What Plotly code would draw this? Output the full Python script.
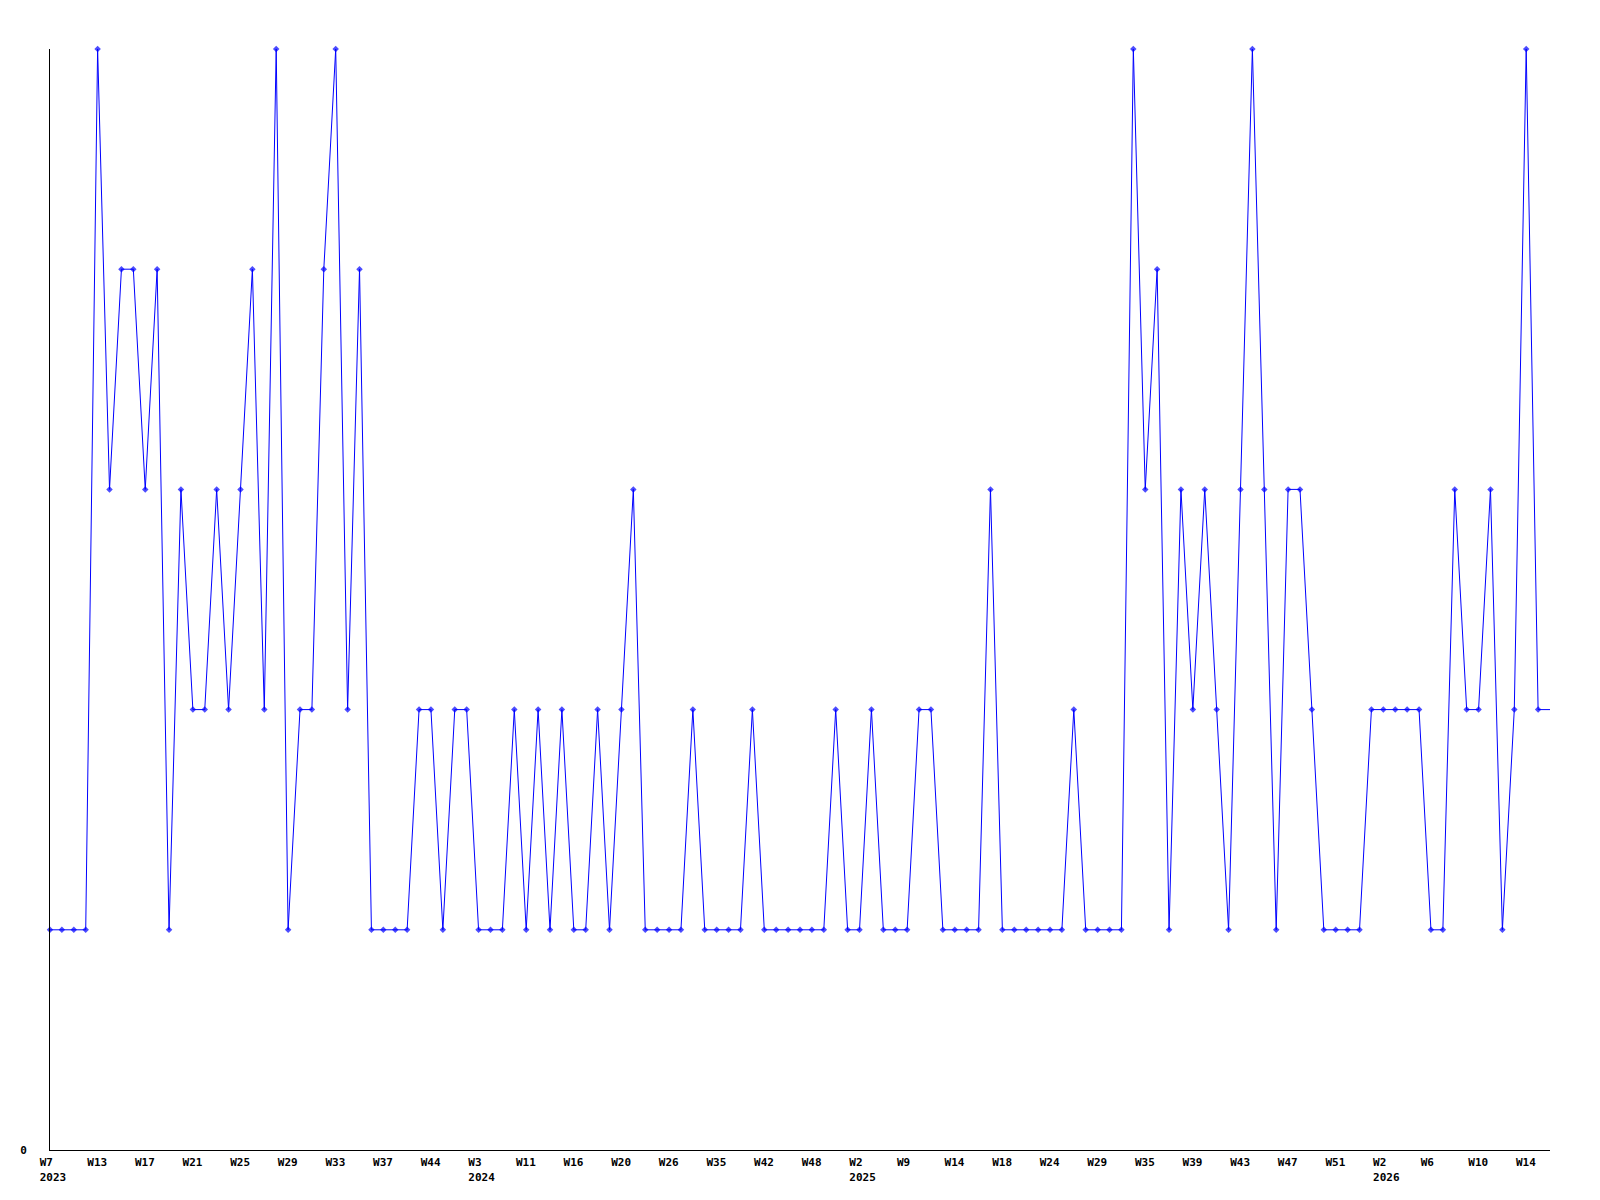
import plotly.graph_objects as go

# Weekly values (one per recorded week, in order)
values = [
    1, 1, 1, 1, 5, 3, 4, 4, 3, 4,
    1, 3, 2, 2, 3, 2, 3, 4, 2, 5,
    1, 2, 2, 4, 5, 2, 4, 1, 1, 1,
    1, 2, 2, 1, 2, 2, 1, 1, 1, 2,
    1, 2, 1, 2, 1, 1, 2, 1, 2, 3,
    1, 1, 1, 1, 2, 1, 1, 1, 1, 2,
    1, 1, 1, 1, 1, 1, 2, 1, 1, 2,
    1, 1, 1, 2, 2, 1, 1, 1, 1, 3,
    1, 1, 1, 1, 1, 1, 2, 1, 1, 1,
    1, 5, 3, 4, 1, 3, 2, 3, 2, 1,
    3, 5, 3, 1, 3, 3, 2, 1, 1, 1,
    1, 2, 2, 2, 2, 2, 1, 1, 3, 2,
    2, 3, 1, 2, 5, 2, 2,
]

# Tick labels shown along the x axis (one every 4 recorded weeks)
tick_weeks = [
    "W7", "W13", "W17", "W21", "W25", "W29", "W33", "W37", "W44",
    "W3", "W11", "W16", "W20", "W26", "W35", "W42", "W48",
    "W2", "W9", "W14", "W18", "W24", "W29", "W35", "W39", "W43", "W47", "W51",
    "W2", "W6", "W10", "W14",
]
tick_years = {0: "2023", 9: "2024", 17: "2025", 28: "2026"}
TICK_STEP = 4

x = list(range(len(values)))
tickvals = [i * TICK_STEP for i in range(len(tick_weeks))]

# left-align the label lines by padding them to a common width (monospace font)
PAD_TO = 4
def pad(s):
    return s + "\u00a0" * max(0, PAD_TO - len(s))

ticktext = []
for i, w in enumerate(tick_weeks):
    if i in tick_years:
        ticktext.append(f"{pad(w)}<br>{pad(tick_years[i])}")
    else:
        ticktext.append(pad(w))

marker_sizes = [5] * (len(values) - 1) + [0]

fig = go.Figure()
fig.add_trace(go.Scatter(
    x=x, y=values,
    mode="lines+markers",
    line=dict(color="#0000ff", width=1),
    marker=dict(symbol="diamond", size=marker_sizes, color="#0000ff",
                line=dict(width=0)),
    cliponaxis=False,
    hoverinfo="skip",
))

tick_font = dict(family="DejaVu Sans Mono", size=11, color="#000000", weight="bold")

# page body adds an 8px margin, so the figure is sized to fit within the window
fig.update_layout(
    width=1584, height=1184,
    margin=dict(l=42, r=42, t=41, b=42, pad=0, autoexpand=False),
    paper_bgcolor="#ffffff", plot_bgcolor="#ffffff",
    showlegend=False,
    xaxis=dict(
        range=[0, len(values) - 1],
        tickmode="array", tickvals=tickvals, ticktext=ticktext,
        showgrid=False, zeroline=False,
        showline=True, linecolor="#000000", linewidth=1,
        ticks="", tickfont=tick_font, tickangle=0,
        ticklabelshift=3, ticklabelstandoff=2,
        automargin=False,
    ),
    yaxis=dict(
        range=[0, 5],
        tickmode="array", tickvals=[0], ticktext=["0"],
        showgrid=False, zeroline=False,
        showline=True, linecolor="#000000", linewidth=1,
        ticks="", tickfont=tick_font,
        ticklabelstandoff=20,
        automargin=False,
    ),
)

fig.write_html("out.html")
